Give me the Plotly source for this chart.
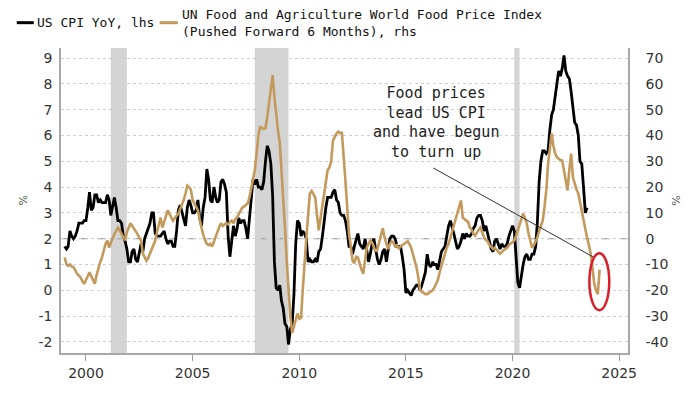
import pandas as pd
import plotly.graph_objects as go

# US CPI YoY (%), monthly from Jan 1999 (left axis)
cpi_yoy = [
    1.7, 1.6, 1.7, 2.3, 2.1, 2.0, 2.1, 2.3, 2.6, 2.6, 2.6, 2.7,
    2.7, 3.2, 3.8, 3.1, 3.2, 3.7, 3.7, 3.4, 3.5, 3.4, 3.4, 3.4,
    3.7, 3.5, 2.9, 3.3, 3.6, 3.2, 2.7, 2.7, 2.6, 2.1, 1.9, 1.6,
    1.1, 1.1, 1.5, 1.6, 1.2, 1.1, 1.5, 1.8, 1.5, 2.0, 2.2, 2.4,
    2.6, 3.0, 3.0, 2.2, 2.1, 2.1, 2.1, 2.2, 2.3, 2.0, 1.8, 1.9,
    1.9, 1.7, 1.7, 2.3, 3.1, 3.3, 3.0, 2.7, 2.5, 3.2, 3.5, 3.3,
    3.0, 3.0, 3.1, 3.5, 2.8, 2.5, 3.2, 3.6, 4.7, 4.3, 3.5, 3.4,
    4.0, 3.6, 3.4, 3.5, 4.2, 4.3, 4.1, 3.8, 2.1, 1.3, 2.0, 2.5,
    2.1, 2.4, 2.8, 2.6, 2.7, 2.7, 2.4, 2.0, 2.8, 3.5, 4.3, 4.1,
    4.3, 4.0, 4.0, 3.9, 4.2, 5.0, 5.6, 5.4, 4.9, 3.7, 1.1, 0.1,
    0.0, 0.2, -0.4, -0.7, -1.3, -1.4, -2.1, -1.5, -1.3, -0.2, 1.8, 2.7,
    2.6, 2.1, 2.3, 2.2, 2.0, 1.1, 1.2, 1.1, 1.1, 1.2, 1.1, 1.5,
    1.6, 2.1, 2.7, 3.2, 3.6, 3.6, 3.6, 3.8, 3.9, 3.5, 3.4, 3.0,
    2.9, 2.9, 2.7, 2.3, 1.7, 1.7, 1.4, 1.7, 2.0, 2.2, 1.8, 1.7,
    1.6, 2.0, 1.5, 1.1, 1.4, 1.8, 2.0, 1.5, 1.2, 1.0, 1.2, 1.5,
    1.6, 1.1, 1.5, 2.0, 2.1, 2.1, 2.0, 1.7, 1.7, 1.7, 1.3, 0.8,
    -0.1, 0.0, -0.1, -0.2, 0.0, 0.1, 0.2, 0.2, 0.0, 0.2, 0.5, 0.7,
    1.4, 1.0, 0.9, 1.1, 1.0, 1.0, 0.8, 1.1, 1.5, 1.6, 1.7, 2.1,
    2.5, 2.7, 2.4, 2.2, 1.9, 1.6, 1.7, 1.9, 2.2, 2.0, 2.2, 2.1,
    2.1, 2.2, 2.4, 2.5, 2.8, 2.9, 2.9, 2.7, 2.3, 2.5, 2.2, 1.9,
    1.6, 1.5, 1.9, 2.0, 1.8, 1.6, 1.8, 1.7, 1.7, 1.8, 2.1, 2.3,
    2.5, 2.3, 1.5, 0.3, 0.1, 0.6, 1.0, 1.3, 1.4, 1.2, 1.2, 1.4,
    1.4, 1.7, 2.6, 4.2, 5.0, 5.4, 5.4, 5.3, 5.4, 6.2, 6.8, 7.0,
    7.5, 7.9, 8.5, 8.3, 8.6, 9.1, 8.5, 8.3, 8.2, 7.7, 7.1, 6.5,
    6.4, 6.0, 5.0, 4.9, 4.0, 3.0, 3.2,
]

# UN FAO World Food Price Index YoY (%), pushed forward 6 months, monthly from Jan 1999 (right axis)
food_yoy = [
    -7.3, -9.9, -10.5, -10.0, -10.8, -11.0, -12.2, -13.6, -14.2, -15.0, -16.5, -17.5,
    -16.0, -14.5, -13.0, -14.5, -15.8, -17.5, -14.0, -11.0, -9.0, -7.3, -4.5, -2.0,
    -0.7, -3.5, -1.5, 0.4, 1.8, 3.0, 4.3, 3.2, 2.0, 0.6, -0.7, 2.5,
    4.5, 6.0, 5.0, 4.0, 3.2, 1.8, 0.5, -0.7, -5.8, -7.0, -8.5, -7.5,
    -5.8, -4.0, -2.5, -0.7, 2.5, 5.5, 8.2, 4.3, 6.5, 8.5, 11.0, 9.5,
    8.0, 7.0, 8.0, 9.0, 9.7, 11.5, 13.0, 15.0, 17.5, 20.6, 20.0, 19.0,
    15.0, 13.5, 12.0, 11.0, 7.5, 4.3, 1.5, -0.5, -2.0, -2.5, -2.0, -3.0,
    -1.0, 1.3, 3.0, 4.5, 6.0, 5.0, 5.5, 6.0, 5.5, 6.5, 7.0, 6.0,
    7.5, 8.2, 9.5, 11.0, 12.0, 12.5, 13.0, 13.6, 16.0, 20.0, 23.0, 26.5,
    33.0, 40.0, 43.2, 43.0, 42.5, 42.8, 47.0, 52.5, 58.0, 63.4, 55.0, 48.0,
    42.0, 37.0, 28.0, 16.0, 4.3, -9.0, -21.5, -30.0, -36.5, -34.0, -31.0, -29.0,
    -31.0, -30.7, -20.0, -8.5, 0.0, 9.0, 17.5, 18.5, 17.0, 16.0, 9.0, 3.2,
    8.0, 13.0, 17.5, 22.0, 26.5, 27.6, 30.0, 38.0, 39.5, 40.8, 41.5, 41.0,
    41.0, 33.0, 22.6, 12.0, 2.0, -3.0, -8.5, -9.5, -7.0, -7.3, -10.0, -12.0,
    -13.6, -9.0, -3.5, -2.0, -0.7, -1.5, -3.0, -5.0, -4.0, -1.0, 1.5, 4.0,
    0.5, -2.5, -4.0, -2.0, -1.0, -1.5, -3.0, -2.5, -4.0, -3.0, -2.5, -2.0,
    -1.5, -1.0, -2.0, -3.5, -6.0, -8.5, -11.0, -15.0, -20.0, -20.5, -21.0, -21.5,
    -21.5, -21.0, -20.5, -20.0, -19.0, -17.5, -16.0, -13.0, -10.5, -8.5, -6.0, -3.5,
    -2.0, 0.5, 2.5, 4.3, 7.0, 9.7, 12.0, 14.8, 8.2, 7.5, 7.0, 6.5,
    4.3, 3.5, 2.0, 1.2, 2.5, 3.5, 4.3, 2.0, 0.5, -0.5, -1.0, -2.5,
    -3.5, -4.0, -3.5, -4.5, -5.0, -5.8, -5.0, -4.5, -4.0, -3.5, -2.5, -2.0,
    -1.5, -0.7, 1.0, 3.2, 5.5, 8.0, 9.7, 8.0, 6.0, 2.0, -1.5, -3.5,
    -2.5, -1.0, 0.4, 3.0, 5.0, 7.0, 12.0, 18.7, 29.0, 35.0, 40.8, 36.0,
    33.0, 31.5, 31.0, 30.5, 30.3, 26.0, 22.0, 18.7, 27.0, 33.0, 23.8, 21.0,
    19.0, 17.5, 14.0, 11.0, 7.0, 3.5, 0.4, -2.5, -5.8, -11.0, -17.5, -20.0,
    -21.5, -12.0,
]

start_month = "1999-01-01"
recessions = [("2001-03-01", "2001-11-30"), ("2007-12-01", "2009-06-30"), ("2020-02-01", "2020-04-30")]
left_ticks = list(range(-2, 10))
right_ticks = list(range(-40, 80, 10))
x_tick_years = [2000, 2005, 2010, 2015, 2020, 2025]

cpi_dates = pd.date_range(start_month, periods=len(cpi_yoy), freq="MS")
food_dates = pd.date_range(start_month, periods=len(food_yoy), freq="MS")

BLACK = "#000000"
GOLD = "#c39a5c"
MONO = "DejaVu Sans Mono"
SANS = "DejaVu Sans"

fig = go.Figure()
fig.add_trace(go.Scatter(x=food_dates, y=food_yoy, mode="lines", yaxis="y2",
                         line=dict(color=GOLD, width=2.6), name="UN Food", showlegend=False))
fig.add_trace(go.Scatter(x=cpi_dates, y=cpi_yoy, mode="lines", yaxis="y",
                         line=dict(color=BLACK, width=2.8), name="US CPI", showlegend=False))

LEG_Y = 1.083

shapes = []
for a, b in recessions:
    shapes.append(dict(type="rect", xref="x", yref="paper", x0=a, x1=b, y0=0, y1=1,
                       fillcolor="#d4d4d4", line=dict(width=0), layer="below"))
# dashed reference line at 2 (lhs) / 0 (rhs)
shapes.append(dict(type="line", xref="paper", yref="y", x0=0, x1=1, y0=2, y1=2,
                   line=dict(color="#a0a0a0", width=1.3, dash="dash"), layer="below"))
# annotation pointer
shapes.append(dict(type="line", xref="x", yref="y", x0="2016-04-15", y0=4.74, x1="2023-10-15", y1=1.29,
                   line=dict(color="#333333", width=1)))
# red ellipse
shapes.append(dict(type="circle", xref="x", yref="y", x0="2023-08-10", x1="2024-07-15", y0=-0.77, y1=1.44,
                   line=dict(color="#d8202a", width=2.5)))
# legend samples
shapes.append(dict(type="line", xref="paper", yref="paper", x0=-0.078, x1=-0.048, y0=LEG_Y, y1=LEG_Y,
                   line=dict(color=BLACK, width=3)))
shapes.append(dict(type="line", xref="paper", yref="paper", x0=0.174, x1=0.206, y0=LEG_Y, y1=LEG_Y,
                   line=dict(color=GOLD, width=3)))

annotations = [
    dict(xref="paper", yref="paper", x=-0.045, y=LEG_Y, text="US CPI YoY, lhs", showarrow=False,
         xanchor="left", yanchor="middle", font=dict(family=MONO, size=13, color="#111111")),
    dict(xref="paper", yref="paper", x=0.21, y=LEG_Y,
         text="UN Food and Agriculture World Food Price Index<br>(Pushed Forward 6 Months), rhs",
         showarrow=False, xanchor="left", yanchor="middle", align="left",
         font=dict(family=MONO, size=13, color="#111111")),
    dict(xref="x", yref="paper", x="2016-06-01", y=0.756,
         text="Food prices<br>lead US CPI<br>and have begun<br>to turn up",
         showarrow=False, xanchor="center", yanchor="middle", align="center",
         font=dict(family=MONO, size=15, color="#222222")),
    dict(xref="paper", yref="paper", x=-0.082, y=0.5, text="%", textangle=-90, showarrow=False,
         font=dict(family=SANS, size=11, color="#4b5b4b")),
    dict(xref="paper", yref="paper", x=1.1, y=0.5, text="%", textangle=-90, showarrow=False,
         font=dict(family=SANS, size=11, color="#4b5b4b")),
]

# the page body adds an 8px offset, so the figure is sized/margined to compensate
fig.update_layout(
    width=692, height=386,
    margin=dict(l=53, r=72, t=40, b=41),
    paper_bgcolor="white", plot_bgcolor="white",
    showlegend=False,
    shapes=shapes,
    annotations=annotations,
    xaxis=dict(
        type="date", range=["1998-10-30", "2025-06-01"],
        tickvals=[f"{y}-01-01" for y in x_tick_years], ticktext=[str(y) for y in x_tick_years],
        ticks="outside", ticklen=6, tickcolor="#9a9a9a", showgrid=False, zeroline=False,
        showline=True, linecolor="#a8a8a8", linewidth=1.5,
        tickfont=dict(family=SANS, size=14, color="#333333"),
    ),
    yaxis=dict(
        range=[-2.43, 9.39], tickvals=left_ticks, ticktext=[str(v) for v in left_ticks],
        showgrid=True, gridcolor="#cfcfcf", griddash="dot", gridwidth=1, zeroline=False,
        showline=True, linecolor="#a8a8a8", linewidth=1.5, ticks="", ticklabelstandoff=4,
        tickfont=dict(family=SANS, size=14, color="#333333"),
    ),
    yaxis2=dict(
        range=[-44.3, 73.9], overlaying="y", side="right",
        tickvals=right_ticks, ticktext=[str(v) for v in right_ticks],
        showgrid=False, zeroline=False,
        showline=True, linecolor="#a8a8a8", linewidth=1.5, ticks="", ticklabelstandoff=13,
        tickfont=dict(family=SANS, size=14, color="#333333"),
    ),
)

fig.write_html("out.html")
